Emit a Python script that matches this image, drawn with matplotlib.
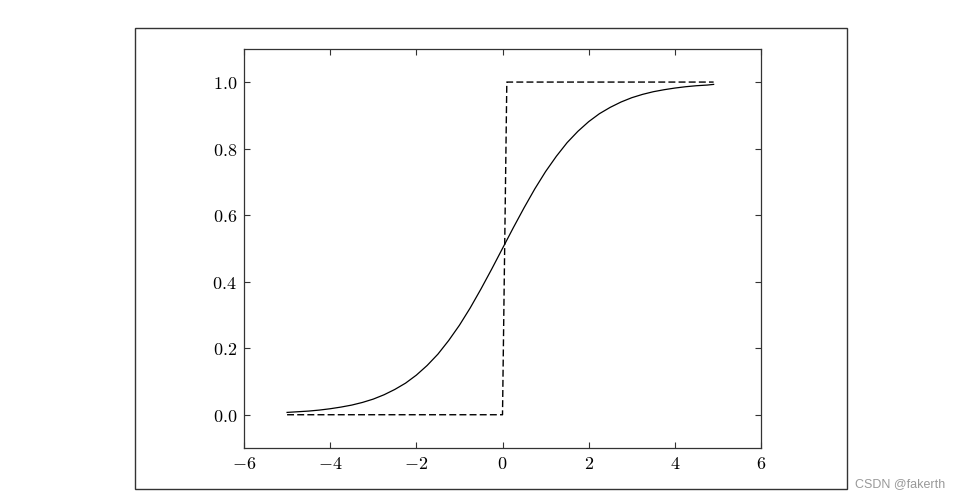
import matplotlib
matplotlib.use('Agg')
import matplotlib.pyplot as plt
from matplotlib.patches import Rectangle
from matplotlib.ticker import FuncFormatter, MultipleLocator

plt.rcParams['mathtext.fontset'] = 'cm'

# sigmoid curve, values
sig_x = [-5.0, -4.75, -4.5, -4.25, -4.0, -3.75, -3.5, -3.25, -3.0, -2.75, -2.5,
         -2.25, -2.0, -1.75, -1.5, -1.25, -1.0, -0.75, -0.5, -0.25, 0.0, 0.25,
         0.5, 0.75, 1.0, 1.25, 1.5, 1.75, 2.0, 2.25, 2.5, 2.75, 3.0, 3.25, 3.5,
         3.75, 4.0, 4.25, 4.5, 4.75, 4.9]
sig_y = [0.007, 0.009, 0.011, 0.014, 0.018, 0.023, 0.029, 0.037, 0.047, 0.060,
         0.076, 0.095, 0.119, 0.148, 0.182, 0.223, 0.269, 0.321, 0.378, 0.438,
         0.500, 0.562, 0.622, 0.679, 0.731, 0.777, 0.818, 0.852, 0.881, 0.905,
         0.924, 0.940, 0.953, 0.963, 0.971, 0.977, 0.982, 0.986, 0.989, 0.991,
         0.993]

# step function (dashed)
step_x = [-5.0, 0.0, 0.1, 4.9]
step_y = [0, 0, 1, 1]

fig = plt.figure(figsize=(9.61, 4.99), dpi=100)
ax = fig.add_axes([0.2539, 0.1022, 0.538, 0.800])

ax.plot(sig_x, sig_y, color='black', lw=0.9)
ax.plot(step_x, step_y, color='black', lw=1.0, ls='--', dashes=(5, 2.3))

ax.set_xlim(-6, 6)
ax.set_ylim(-0.1, 1.1)
ax.xaxis.set_major_locator(MultipleLocator(2))
ax.yaxis.set_major_locator(MultipleLocator(0.2))
ax.xaxis.set_major_formatter(FuncFormatter(lambda v, p: r'$%d$' % round(v)))
ax.yaxis.set_major_formatter(FuncFormatter(lambda v, p: r'$%.1f$' % v))
ax.tick_params(direction='in', top=True, right=True, length=4, width=0.8,
               labelsize=13, color='#333333', pad=5)
for s in ax.spines.values():
    s.set_color('#333333')
    s.set_linewidth(0.9)

# outer frame of the figure
fig.patches.append(Rectangle((0.1405, 0.02), 0.7409, 0.9239, transform=fig.transFigure,
                             fill=False, edgecolor='#333333', lw=1.0))

fig.text(0.984, 0.03, 'CSDN @fakerth', ha='right', va='center',
         fontsize=9, color='#999999', family='Liberation Sans')

fig.savefig('out.png', dpi=100, facecolor='white')
